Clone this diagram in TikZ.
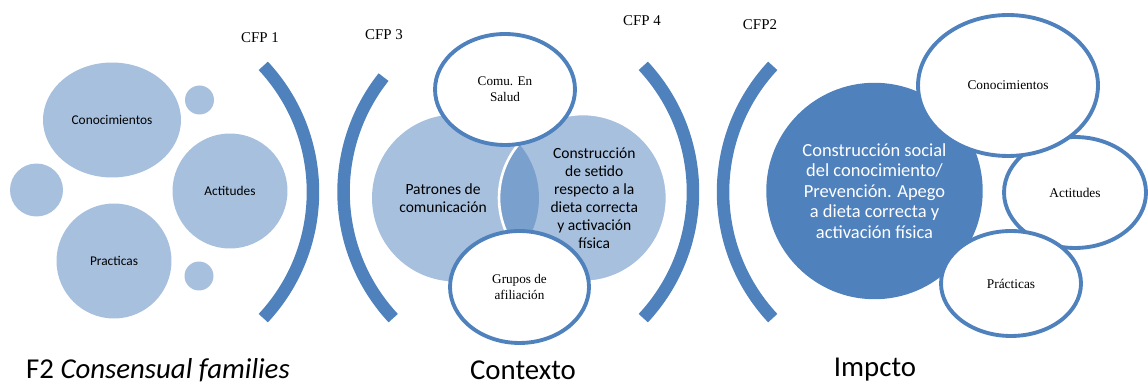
\documentclass[tikz,border=0pt]{standalone}
\usepackage{fontspec}
\setmainfont{Liberation Serif}
\newfontfamily\calibri{Carlito}
\definecolor{AccentBlue}{RGB}{79, 129, 189}
\usetikzlibrary{shapes.geometric}

\begin{document}
\begin{tikzpicture}[x=0.02cm, y=0.02cm]
        \tikzstyle{bubble} = [fill=AccentBlue!50, inner sep=0pt, align=center, font=\calibri\fontsize{7.6}{9}\selectfont]
        \tikzstyle{venn} = [circle, fill=AccentBlue, fill opacity=0.5, text opacity=1, inner sep=0pt, align=center, font=\calibri\fontsize{8.85}{10.2}\selectfont]
        \tikzstyle{oval} = [ellipse, draw=AccentBlue, line width=2.2pt, fill=white, inner sep=0pt, align=center, font=\fontsize{7.5}{9}\selectfont]
        \tikzstyle{bracket} = [AccentBlue, line width=0.25cm]
        \tikzstyle{cfp} = [font=\fontsize{8.5}{10}\selectfont]
        \tikzstyle{caption} = [font=\calibri\fontsize{16.4}{19}\selectfont]

        \useasboundingbox (0,0) rectangle (1148,385);

        % Familias consensuales
        \node (conoc1) [bubble, ellipse, minimum width=2.76cm, minimum height=2.3cm] at (112,265) {Conocimientos};
        \node (acti1) [bubble, circle, minimum size=2.3cm] at (230,194) {Actitudes};
        \node (prac1) [bubble, circle, minimum size=2.3cm] at (114,124) {Practicas};
        \node (dotleft) [bubble, circle, minimum size=1.06cm] at (36.5,195) {};
        \node (dottop) [bubble, circle, minimum size=0.58cm] at (199.5,285) {};
        \node (dotbottom) [bubble, circle, minimum size=0.58cm] at (199,109) {};
        \node (fam) [caption] at (158,15) {F2 \textit{Consensual families}};

        % Corchetes
        \node (cfp1) [cfp] at (260,347) {CFP 1};
        \draw [bracket] (128,193) ++(-43:3.7cm) arc[start angle=-43, end angle=43, radius=3.7cm];
        \node (cfp3) [cfp] at (384,350) {CFP 3};
        \draw [bracket] (528.5,193) ++(141.6:3.7cm) arc[start angle=141.6, end angle=223, radius=3.7cm];
        \node (cfp4) [cfp] at (642,364) {CFP 4};
        \draw [bracket] (508,193) ++(-43:3.7cm) arc[start angle=-43, end angle=43, radius=3.7cm];
        \node (cfp2) [cfp] at (760,360) {CFP2};
        \draw [bracket] (908,193) ++(137:3.7cm) arc[start angle=137, end angle=223, radius=3.7cm];

        % Contexto
        \node (patrones) [venn, minimum size=3.34cm] at (455.5,187) {\hspace*{-0.5cm}Patrones de\\\hspace*{-0.5cm}comunicación};
        \node (setido) [venn, minimum size=3.36cm, draw=white, line width=1.5pt] at (583,187) {\hspace*{0.45cm}Construcción\\\hspace*{0.45cm}de setido\\\hspace*{0.45cm}respecto a la\\\hspace*{0.45cm}dieta correcta\\\hspace*{0.45cm}y activación\\\hspace*{0.45cm}física};
        \node (comu) [oval, minimum width=2.8cm, minimum height=2.22cm] at (505,295.5) {Comu. En\\Salud};
        \node (grupos) [oval, minimum width=2.78cm, minimum height=2.24cm] at (519.5,98) {Grupos de\\afiliación};
        \node (contexto) [caption] at (523,15) {Contexto};

        % Impacto
        \node (social) [circle, fill=AccentBlue, minimum size=4.33cm, inner sep=0pt, align=center, text=white, font=\calibri\fontsize{10.5}{11.6}\selectfont] at (874.5,194) {Construcción social\\del conocimiento/\\Prevención. Apego\\a dieta correcta y\\activación física};
        \node (acti3) [oval, minimum width=2.84cm, minimum height=2.22cm, font=\fontsize{7.6}{9}\selectfont] at (1075,192.5) {Actitudes};
        \node (conoc3) [oval, minimum width=3.6cm, minimum height=2.82cm, font=\fontsize{7.6}{9}\selectfont] at (1008,299.5) {Conocimientos};
        \node (prac3) [oval, minimum width=2.8cm, minimum height=2.1cm, font=\fontsize{7.6}{9}\selectfont] at (1011,101.5) {Prácticas};
        \node (impacto) [caption] at (875,15) {Impcto};
\end{tikzpicture}
\end{document}
